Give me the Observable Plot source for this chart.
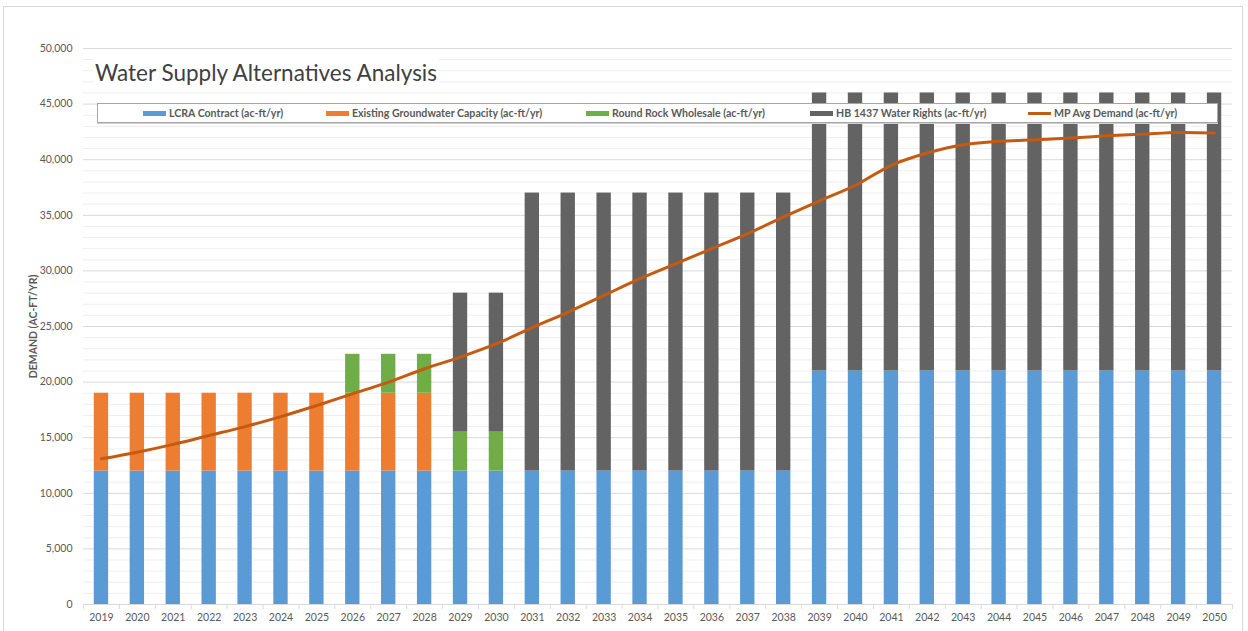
<!DOCTYPE html>
<html>
<head>
<meta charset="utf-8">
<script src="https://cdn.jsdelivr.net/npm/d3@7"></script>
<script src="https://cdn.jsdelivr.net/npm/@observablehq/plot@0.6"></script>
<style>
  body { margin: 0; background: #fff; font-family: Lato, "Open Sans", sans-serif; }
  #wrap { position: relative; width: 1248px; height: 631px; overflow: hidden; }
  #frame { position: absolute; left: 3px; top: 6px; width: 1238px; height: 660px; border: 1px solid #d9d9d9; pointer-events: none; }
  #title { position: absolute; left: 93px; top: 58px; padding: 0 2px; background: #fff; font-size: 22.5px; color: #404040; white-space: nowrap; line-height: 30px; }
  #legend { position: absolute; left: 97px; top: 103px; width: 1119px; height: 18px; border: 1px solid #a6a6a6; background: #fff; box-shadow: 0 1px 0 #d0d0d0; }
  .item { position: absolute; top: 0; height: 18px; line-height: 18px; font-size: 10.6px; font-weight: bold; color: #595959; white-space: nowrap; }
  .sw { display: inline-block; width: 23px; height: 5px; vertical-align: middle; margin-right: 3px; position: relative; top: -1px; }
  .ln { height: 3px; }
</style>
</head>
<body>
<div id="wrap">
  <div id="chart"></div>
  <div id="frame"></div>
  <div id="title"></div>
  <div id="legend"></div>
</div>
<script>
// ---- data ----
const years = ["2019","2020","2021","2022","2023","2024","2025","2026","2027","2028",
  "2029","2030","2031","2032","2033","2034","2035","2036","2037","2038",
  "2039","2040","2041","2042","2043","2044","2045","2046","2047","2048","2049","2050"];

const lcraContract = [12000,12000,12000,12000,12000,12000,12000,12000,12000,12000,
  12000,12000,12000,12000,12000,12000,12000,12000,12000,12000,
  21000,21000,21000,21000,21000,21000,21000,21000,21000,21000,21000,21000];

const groundwater = [7000,7000,7000,7000,7000,7000,7000,7000,7000,7000,
  0,0,0,0,0,0,0,0,0,0,
  0,0,0,0,0,0,0,0,0,0,0,0];

const roundRock = [0,0,0,0,0,0,0,3500,3500,3500,
  3500,3500,0,0,0,0,0,0,0,0,
  0,0,0,0,0,0,0,0,0,0,0,0];

const hb1437 = [0,0,0,0,0,0,0,0,0,0,
  12500,12500,25000,25000,25000,25000,25000,25000,25000,25000,
  25000,25000,25000,25000,25000,25000,25000,25000,25000,25000,25000,25000];

const mpAvgDemand = [13100,13700,14400,15200,16000,16900,17900,18950,20000,21200,
  22250,23450,24900,26300,27800,29300,30650,32000,33350,34850,
  36300,37700,39500,40600,41350,41650,41800,41950,42150,42300,42450,42400];

const seriesNames = ["LCRA Contract (ac-ft/yr)", "Existing Groundwater Capacity (ac-ft/yr)",
  "Round Rock Wholesale (ac-ft/yr)", "HB 1437 Water Rights (ac-ft/yr)"];
const seriesColors = ["#5B9BD5", "#ED7D31", "#70AD47", "#636363"];
const lineName = "MP Avg Demand (ac-ft/yr)";
const lineColor = "#C55A11";

const majorTicks = [0,5000,10000,15000,20000,25000,30000,35000,40000,45000,50000];
const minorTicks = [1000,2000,3000,4000,6000,7000,8000,9000,11000,12000,13000,14000,
  16000,17000,18000,19000,21000,22000,23000,24000,26000,27000,28000,29000,
  31000,32000,33000,34000,36000,37000,38000,39000,41000,42000,43000,44000,
  46000,47000,48000,49000];

const titleText = "Water Supply Alternatives Analysis";
const yLabel = "DEMAND (AC-FT/YR)";

// ---- build tables ----
const seriesValues = [lcraContract, groundwater, roundRock, hb1437];
const rows = [];
seriesNames.forEach((s, k) => years.forEach((y, i) => rows.push({year: y, series: s, value: seriesValues[k][i]})));
const demandRows = years.map((y, i) => ({year: y, value: mpAvgDemand[i]}));

const W = 1248, H = 631, ML = 83, MR = 16, MT = 48, MB = 27;
const step = (W - ML - MR) / years.length;

const chart = Plot.plot({
  width: W, height: H,
  marginLeft: ML, marginRight: MR, marginTop: MT, marginBottom: MB,
  style: {fontFamily: "Lato, 'Open Sans', sans-serif", fontSize: "10.5px", color: "#595959", background: "transparent"},
  x: {type: "band", domain: years, paddingInner: 0.6, paddingOuter: 0.3, round: false},
  y: {domain: [0, 50000]},
  color: {domain: seriesNames, range: seriesColors},
  marks: [
    Plot.ruleY(minorTicks, {stroke: "#efefef", strokeWidth: 1}),
    Plot.ruleY(majorTicks.slice(1), {stroke: "#d9d9d9", strokeWidth: 1}),
    Plot.barY(rows, {x: "year", y: "value", fill: "series"}),
    Plot.ruleY([0], {stroke: "#d9d9d9", strokeWidth: 1}),
    Plot.line(demandRows, {x: "year", y: "value", stroke: lineColor, strokeWidth: 3, curve: "catmull-rom"}),
    Plot.axisY({ticks: majorTicks, tickSize: 0, tickPadding: 11, tickFormat: d3.format(","), label: null, fill: "#595959"}),
    Plot.axisX({tickSize: 0, tickPadding: 9, label: null, fill: "#595959"}),
    Plot.axisX({tickSize: 5, dx: step / 2, tickFormat: () => "", label: null, stroke: "#d9d9d9"}),
    Plot.axisX({ticks: [years[0]], tickSize: 5, dx: -step / 2, tickFormat: () => "", label: null, stroke: "#d9d9d9"}),
    Plot.text([yLabel], {frameAnchor: "left", textAnchor: "middle", rotate: -90, dx: -50, fontWeight: "bold", fontSize: 10.5, fill: "#595959"})
  ]
});
document.getElementById("chart").appendChild(chart);

document.getElementById("title").textContent = titleText;

// legend (HTML overlay inside plot area, as in the reference)
const legend = document.getElementById("legend");
const legendX = [45, 228, 488, 712, 930];
const entries = seriesNames.map((s, i) => ({name: s, color: seriesColors[i], line: false}));
entries.push({name: lineName, color: lineColor, line: true});
entries.forEach((e, i) => {
  const it = document.createElement("div");
  it.className = "item";
  it.style.left = legendX[i] + "px";
  const sw = document.createElement("span");
  sw.className = "sw" + (e.line ? " ln" : "");
  sw.style.background = e.color;
  it.appendChild(sw);
  it.appendChild(document.createTextNode(e.name));
  legend.appendChild(it);
});
</script>
</body>
</html>
